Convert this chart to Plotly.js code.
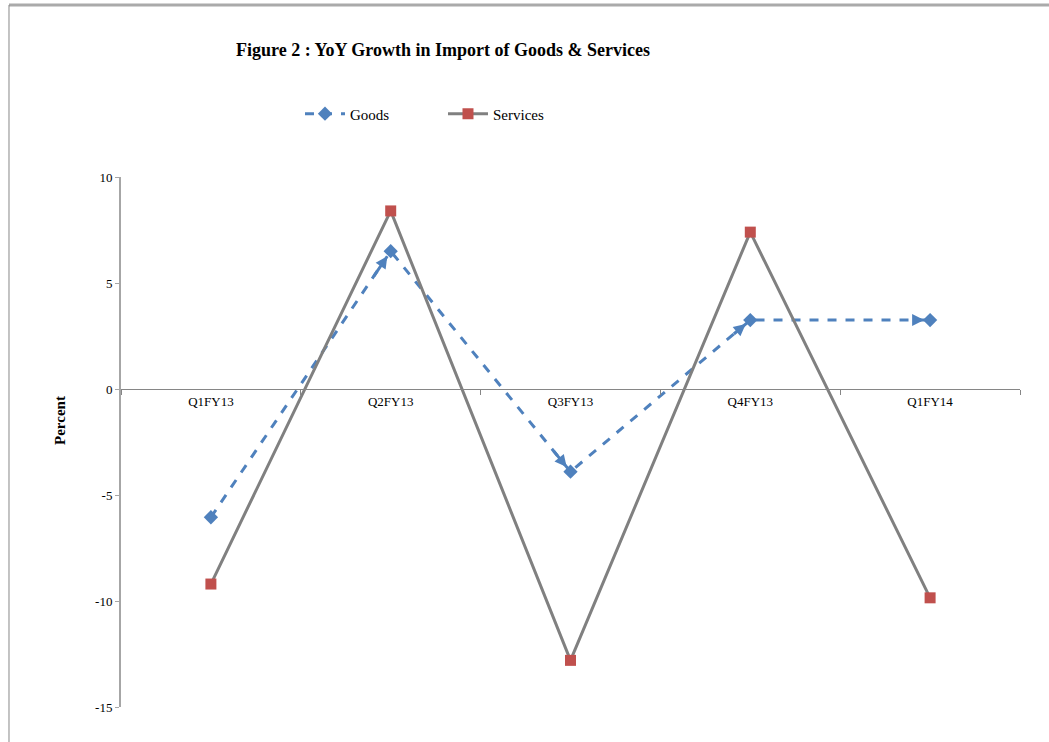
<!DOCTYPE html>
<html><head><meta charset="utf-8">
<script src="https://cdn.plot.ly/plotly-3.0.1.min.js"></script>
<style>html,body{margin:0;padding:0;background:#fff}#chart{width:1049px;height:742px}</style>
</head><body><div id="chart"></div>
<script>
var categories = ["Q1FY13","Q2FY13","Q3FY13","Q4FY13","Q1FY14"];
var goods = [-6.05, 6.5, -3.9, 3.25, 3.25];
var services = [-9.2, 8.4, -12.8, 7.4, -9.85];
var yTicks = [10, 5, 0, -5, -10, -15];

var FONT = "Liberation Serif, Times New Roman, serif";
var BLUE = "#4F81BD", GRAY = "#808080", RED = "#C0504D";

var traces = [
  {x: categories, y: goods, name: "Goods", type: "scatter", mode: "lines+markers",
   line: {color: BLUE, width: 3, dash: "dash"},
   marker: {symbol: "diamond", size: 11, color: BLUE}},
  {x: categories, y: services, name: "Services", type: "scatter", mode: "lines+markers",
   line: {color: GRAY, width: 3},
   marker: {symbol: "square", size: 11, color: RED}}
];

// small arrowheads on the goods segments (Excel arrow line ends)
var annotations = [];
for (var i = 1; i < categories.length; i++) {
  var f = 0.1;
  annotations.push({x: i, y: goods[i], xref: "x", yref: "y",
    ax: i - f, ay: goods[i] - f * (goods[i] - goods[i-1]), axref: "x", ayref: "y",
    text: "", showarrow: true, arrowhead: 2, arrowsize: 0.8, arrowwidth: 3,
    arrowcolor: BLUE, standoff: 6});
}
annotations.push({text: "<b>Figure 2 : YoY Growth in Import of Goods &amp; Services</b>",
  xref: "paper", yref: "paper", x: 0.1257, y: 1.2396, xanchor: "left", yanchor: "middle",
  showarrow: false, font: {family: FONT, size: 18, color: "#000"}});
annotations.push({text: "<b>Percent</b>", xref: "paper", yref: "paper", x: -0.0679, y: 0.5415,
  textangle: -90, xanchor: "center", yanchor: "middle", showarrow: false,
  font: {family: FONT, size: 15, color: "#000"}});

var layout = {
  width: 1049, height: 742,
  margin: {l: 121, r: 29, t: 177, b: 35},
  paper_bgcolor: "#fff", plot_bgcolor: "#fff",
  font: {family: FONT, size: 13, color: "#000"},
  showlegend: true,
  legend: {orientation: "h", x: 0.1991, y: 1.119, xanchor: "left", yanchor: "middle",
    font: {family: FONT, size: 15, color: "#000"}, itemwidth: 40, tracegroupgap: 0,
    entrywidth: 88, entrywidthmode: "pixels"},
  xaxis: {type: "category", anchor: "free", position: 0.6, range: [-0.5, 4.5],
    showline: true, linecolor: "#868686", linewidth: 1, showgrid: false, zeroline: false,
    ticks: "outside", tickson: "boundaries", ticklen: 5, tickcolor: "#868686",
    tickfont: {family: FONT, size: 13, color: "#000"}, fixedrange: true},
  yaxis: {range: [-15, 10], tickvals: yTicks, ticktext: yTicks.map(String),
    showline: true, linecolor: "#A6A6A6", linewidth: 2, showgrid: false, zeroline: false,
    ticks: "outside", ticklen: 4, tickcolor: "#A6A6A6",
    tickfont: {family: FONT, size: 13, color: "#000"}, fixedrange: true},
  annotations: annotations,
  shapes: [
    {type: "line", xref: "paper", yref: "paper", x0: -0.1246, x1: 1.1, y0: 1.3245, y1: 1.3245,
     line: {color: "#AAAAAA", width: 3}},
    {type: "line", xref: "paper", yref: "paper", x0: -0.1246, x1: -0.1246, y0: 1.3245, y1: -0.2,
     line: {color: "#888888", width: 1}}
  ]
};
Plotly.newPlot("chart", traces, layout, {displayModeBar: false, staticPlot: true});
</script></body></html>
